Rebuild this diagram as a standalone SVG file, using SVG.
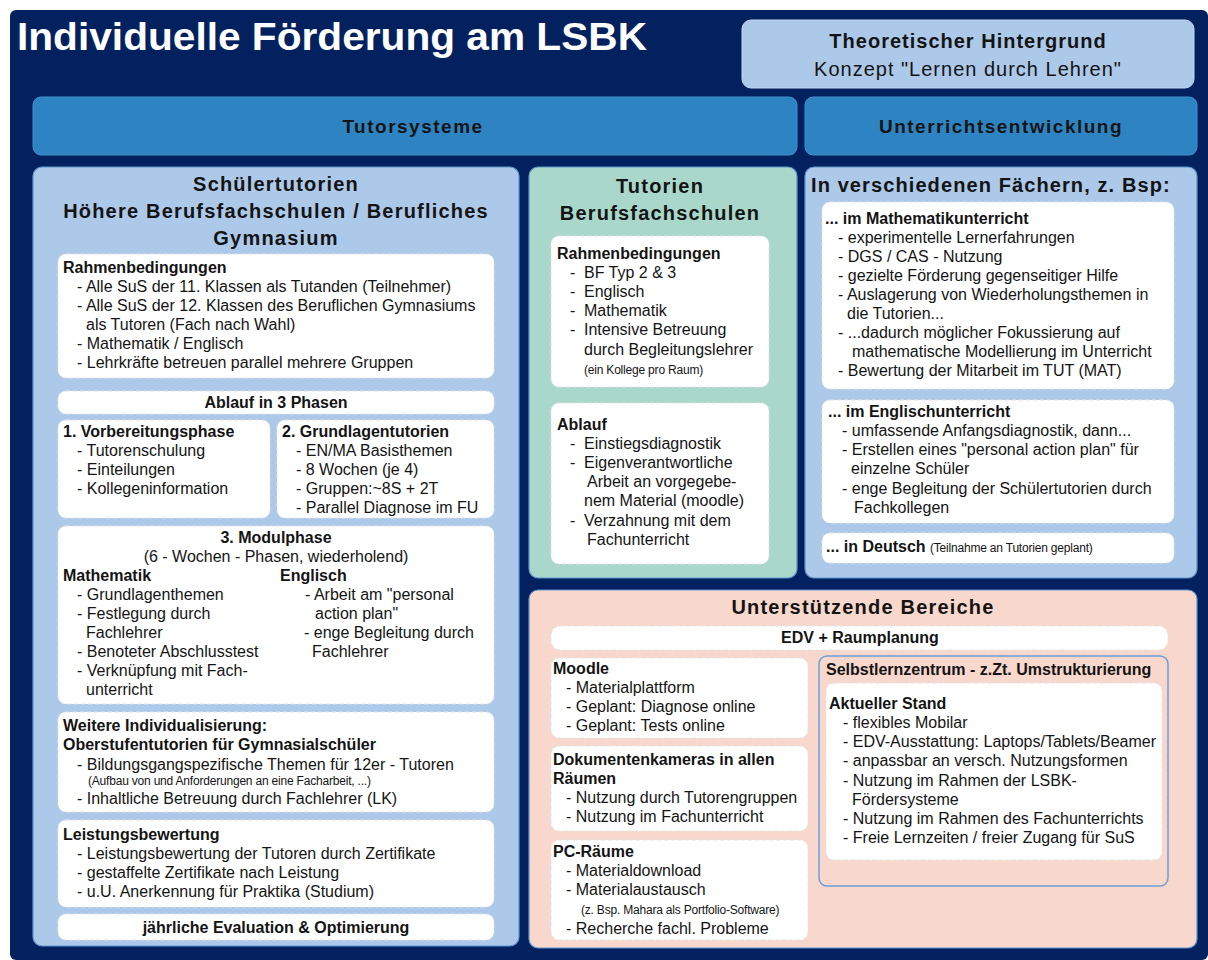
<svg xmlns="http://www.w3.org/2000/svg" width="1208" height="960" viewBox="0 0 1208 960">
  <style>
    text { font-family: "Liberation Sans", Arial, sans-serif; fill: #141414; }
    .t { font-size: 16px; }
    .b { font-size: 16px; font-weight: bold; }
    .s { font-size: 12px; letter-spacing: -0.2px; }
    .h { font-size: 20px; font-weight: bold; letter-spacing: 1.2px; }
    .bar { font-size: 19px; font-weight: bold; letter-spacing: 1.5px; }
    .c { text-anchor: middle; }
    .panel { stroke: #5e93cf; stroke-width: 1.2; }
    .bluebar { fill: #2e84c3; stroke: #3f8fcc; stroke-width: 1; }
    .lb { fill: #adc9e9; }
    .gr { fill: #a9d8cb; }
    .sa { fill: #f8d7cd; }
    .wb { fill: #ffffff; stroke: #e4e4e4; stroke-width: 1; stroke-dasharray: 4 3; }
  </style>

  <!-- background frame -->
  <rect x="0" y="0" width="1208" height="960" fill="#ffffff"/>
  <rect x="10" y="10" width="1198" height="950" rx="6" fill="#03215e"/>

  <!-- title -->
  <g id="title">
    <text x="17" y="50" font-size="39" font-weight="bold" style="fill:#ffffff" textLength="630" lengthAdjust="spacingAndGlyphs">Individuelle Förderung am LSBK</text>
  </g>

  <g id="theorie">
    <rect x="742" y="20" width="452" height="68" rx="9" class="lb" stroke="#c4d8ef" stroke-width="1"/>
    <text x="968" y="48" class="c" font-size="20" font-weight="bold" letter-spacing="1">Theoretischer Hintergrund</text>
    <text x="968" y="76" class="c" font-size="20" letter-spacing="1">Konzept "Lernen durch Lehren"</text>
  </g>

  <g id="tutorsysteme">
    <rect x="33" y="97" width="764" height="58" rx="8" class="bluebar"/>
    <text x="413" y="133" class="bar c">Tutorsysteme</text>
  </g>

  <g id="unterrichtsentwicklung">
    <rect x="805" y="97" width="392" height="58" rx="8" class="bluebar"/>
    <text x="1001" y="133" class="bar c">Unterrichtsentwicklung</text>
  </g>

  <!-- left column: Schülertutorien -->
  <g id="schuelertutorien">
    <rect x="33" y="167" width="486" height="779" rx="9" class="lb panel"/>
    <text x="276" y="191" class="h c">Schülertutorien</text>
    <text x="276" y="218" class="h c">Höhere Berufsfachschulen / Berufliches</text>
    <text x="276" y="245" class="h c">Gymnasium</text>
  </g>

  <g id="rahmen-schueler">
    <rect x="58" y="254" width="436" height="124" rx="8" class="wb"/>
    <text x="63" y="273" class="b">Rahmenbedingungen</text>
    <text x="77" y="292" class="t">- Alle SuS der 11. Klassen als Tutanden (Teilnehmer)</text>
    <text x="77" y="311" class="t">- Alle SuS der 12. Klassen des Beruflichen Gymnasiums</text>
    <text x="86" y="330" class="t">als Tutoren (Fach nach Wahl)</text>
    <text x="77" y="349" class="t">- Mathematik / Englisch</text>
    <text x="77" y="368" class="t">- Lehrkräfte betreuen parallel mehrere Gruppen</text>
  </g>

  <g id="ablauf-phasen">
    <rect x="58" y="391" width="436" height="23" rx="8" class="wb"/>
    <text x="276" y="408" class="b c">Ablauf in 3 Phasen</text>
  </g>

  <g id="phase1">
    <rect x="58" y="420" width="212" height="98" rx="8" class="wb"/>
    <text x="63" y="437" class="b">1. Vorbereitungsphase</text>
    <text x="77" y="456" class="t">- Tutorenschulung</text>
    <text x="77" y="475" class="t">- Einteilungen</text>
    <text x="77" y="494" class="t">- Kollegeninformation</text>
  </g>

  <g id="phase2">
    <rect x="277" y="420" width="217" height="98" rx="8" class="wb"/>
    <text x="282" y="437" class="b">2. Grundlagentutorien</text>
    <text x="296" y="456" class="t">- EN/MA Basisthemen</text>
    <text x="296" y="475" class="t">- 8 Wochen (je 4)</text>
    <text x="296" y="494" class="t">- Gruppen:~8S + 2T</text>
    <text x="296" y="513" class="t">- Parallel Diagnose im FU</text>
  </g>

  <g id="phase3">
    <rect x="58" y="526" width="436" height="178" rx="8" class="wb"/>
    <text x="276" y="543" class="b c">3. Modulphase</text>
    <text x="276" y="562" class="t c">(6 - Wochen - Phasen, wiederholend)</text>
    <text x="63" y="581" class="b">Mathematik</text>
    <text x="77" y="600" class="t">- Grundlagenthemen</text>
    <text x="77" y="619" class="t">- Festlegung durch</text>
    <text x="86" y="638" class="t">Fachlehrer</text>
    <text x="77" y="657" class="t">- Benoteter Abschlusstest</text>
    <text x="77" y="676" class="t">- Verknüpfung mit Fach-</text>
    <text x="86" y="695" class="t">unterricht</text>
    <text x="280" y="581" class="b">Englisch</text>
    <text x="305" y="600" class="t">- Arbeit am "personal</text>
    <text x="315" y="619" class="t">action plan"</text>
    <text x="304" y="638" class="t">- enge Begleitung durch</text>
    <text x="312" y="657" class="t">Fachlehrer</text>
  </g>

  <g id="weitere">
    <rect x="58" y="712" width="436" height="100" rx="8" class="wb"/>
    <text x="63" y="731" class="b">Weitere Individualisierung:</text>
    <text x="63" y="750" class="b">Oberstufentutorien für Gymnasialschüler</text>
    <text x="77" y="770" class="t">- Bildungsgangspezifische Themen für 12er - Tutoren</text>
    <text x="88" y="785" class="s">(Aufbau von und Anforderungen an eine Facharbeit, ...)</text>
    <text x="77" y="804" class="t">- Inhaltliche Betreuung durch Fachlehrer (LK)</text>
  </g>

  <g id="leistung">
    <rect x="58" y="820" width="436" height="87" rx="8" class="wb"/>
    <text x="63" y="840" class="b">Leistungsbewertung</text>
    <text x="77" y="859" class="t">- Leistungsbewertung der Tutoren durch Zertifikate</text>
    <text x="77" y="878" class="t">- gestaffelte Zertifikate nach Leistung</text>
    <text x="77" y="897" class="t">- u.U. Anerkennung für Praktika (Studium)</text>
  </g>

  <g id="evaluation">
    <rect x="58" y="914" width="436" height="26" rx="8" class="wb"/>
    <text x="276" y="933" class="b c">jährliche Evaluation &amp; Optimierung</text>
  </g>

  <!-- middle column: Tutorien Berufsfachschulen -->
  <g id="tutorien-bf">
    <rect x="529" y="167" width="268" height="411" rx="9" class="gr panel"/>
    <text x="660" y="193" class="h c">Tutorien</text>
    <text x="660" y="220" class="h c">Berufsfachschulen</text>
  </g>

  <g id="rahmen-bf">
    <rect x="551" y="236" width="218" height="151" rx="8" class="wb"/>
    <text x="557" y="259" class="b">Rahmenbedingungen</text>
    <text x="570" y="278" class="t">-</text><text x="584" y="278" class="t">BF Typ 2 &amp; 3</text>
    <text x="570" y="297" class="t">-</text><text x="584" y="297" class="t">Englisch</text>
    <text x="570" y="316" class="t">-</text><text x="584" y="316" class="t">Mathematik</text>
    <text x="570" y="335" class="t">-</text><text x="584" y="335" class="t">Intensive Betreuung</text>
    <text x="584" y="355" class="t">durch Begleitungslehrer</text>
    <text x="584" y="374" class="s">(ein Kollege pro Raum)</text>
  </g>

  <g id="ablauf-bf">
    <rect x="551" y="403" width="218" height="161" rx="8" class="wb"/>
    <text x="557" y="430" class="b">Ablauf</text>
    <text x="570" y="449" class="t">-</text><text x="584" y="449" class="t">Einstiegsdiagnostik</text>
    <text x="570" y="468" class="t">-</text><text x="584" y="468" class="t">Eigenverantwortliche</text>
    <text x="587" y="487" class="t">Arbeit an vorgegebe-</text>
    <text x="584" y="506" class="t">nem Material (moodle)</text>
    <text x="570" y="526" class="t">-</text><text x="584" y="526" class="t">Verzahnung mit dem</text>
    <text x="587" y="545" class="t">Fachunterricht</text>
  </g>

  <!-- right column: Unterrichtsentwicklung -->
  <g id="faecher">
    <rect x="805" y="167" width="392" height="411" rx="9" class="lb panel"/>
    <text x="811" y="192" font-size="20" font-weight="bold" letter-spacing="1.1">In verschiedenen Fächern, z. Bsp:</text>
  </g>

  <g id="mathematik">
    <rect x="822" y="202" width="352" height="187" rx="8" class="wb"/>
    <text x="825" y="224" class="b">... im Mathematikunterricht</text>
    <text x="838" y="243" class="t">- experimentelle Lernerfahrungen</text>
    <text x="838" y="262" class="t">- DGS / CAS - Nutzung</text>
    <text x="838" y="281" class="t">- gezielte Förderung gegenseitiger Hilfe</text>
    <text x="838" y="300" class="t">- Auslagerung von Wiederholungsthemen in</text>
    <text x="847" y="319" class="t">die Tutorien...</text>
    <text x="838" y="338" class="t">- ...dadurch möglicher Fokussierung auf</text>
    <text x="852" y="357" class="t">mathematische Modellierung im Unterricht</text>
    <text x="838" y="376" class="t">- Bewertung der Mitarbeit im TUT (MAT)</text>
  </g>

  <g id="englisch">
    <rect x="822" y="400" width="352" height="123" rx="8" class="wb"/>
    <text x="828" y="417" class="b">... im Englischunterricht</text>
    <text x="842" y="436" class="t">- umfassende Anfangsdiagnostik, dann...</text>
    <text x="842" y="455" class="t">- Erstellen eines "personal action plan" für</text>
    <text x="851" y="474" class="t">einzelne Schüler</text>
    <text x="842" y="494" class="t">- enge Begleitung der Schülertutorien durch</text>
    <text x="854" y="513" class="t">Fachkollegen</text>
  </g>

  <g id="deutsch">
    <rect x="822" y="533" width="352" height="30" rx="8" class="wb"/>
    <text x="826" y="552" class="b">... in Deutsch <tspan class="s" font-weight="normal">(Teilnahme an Tutorien geplant)</tspan></text>
  </g>

  <!-- bottom right: Unterstützende Bereiche -->
  <g id="unterstuetzend">
    <rect x="529" y="590" width="668" height="358" rx="9" class="sa panel"/>
    <text x="863" y="614" class="h c">Unterstützende Bereiche</text>
  </g>

  <g id="edv">
    <rect x="551" y="626" width="617" height="24" rx="9" class="wb"/>
    <text x="860" y="643" class="b c">EDV + Raumplanung</text>
  </g>

  <g id="moodle">
    <rect x="551" y="658" width="257" height="80" rx="8" class="wb"/>
    <text x="553" y="674" class="b">Moodle</text>
    <text x="566" y="693" class="t">- Materialplattform</text>
    <text x="566" y="712" class="t">- Geplant: Diagnose online</text>
    <text x="566" y="731" class="t">- Geplant: Tests online</text>
  </g>

  <g id="kameras">
    <rect x="551" y="746" width="257" height="85" rx="8" class="wb"/>
    <text x="553" y="765" class="b">Dokumentenkameras in allen</text>
    <text x="553" y="784" class="b">Räumen</text>
    <text x="566" y="803" class="t">- Nutzung durch Tutorengruppen</text>
    <text x="566" y="822" class="t">- Nutzung im Fachunterricht</text>
  </g>

  <g id="pc-raeume">
    <rect x="551" y="840" width="257" height="100" rx="8" class="wb"/>
    <text x="553" y="857" class="b">PC-Räume</text>
    <text x="566" y="876" class="t">- Materialdownload</text>
    <text x="566" y="895" class="t">- Materialaustausch</text>
    <text x="581" y="914" class="s">(z. Bsp. Mahara als Portfolio-Software)</text>
    <text x="566" y="934" class="t">- Recherche fachl. Probleme</text>
  </g>

  <g id="selbstlernzentrum">
    <rect x="819" y="656" width="349" height="230" rx="8" class="sa" stroke="#6b9fd6" stroke-width="1.5"/>
    <text x="826" y="675" class="b">Selbstlernzentrum - z.Zt. Umstrukturierung</text>
  </g>

  <g id="aktueller-stand">
    <rect x="826" y="683" width="336" height="177" rx="8" class="wb"/>
    <text x="829" y="709" class="b">Aktueller Stand</text>
    <text x="843" y="728" class="t">- flexibles Mobilar</text>
    <text x="843" y="747" class="t">- EDV-Ausstattung: Laptops/Tablets/Beamer</text>
    <text x="843" y="766" class="t">- anpassbar an versch. Nutzungsformen</text>
    <text x="843" y="786" class="t">- Nutzung im Rahmen der LSBK-</text>
    <text x="852" y="805" class="t">Fördersysteme</text>
    <text x="843" y="824" class="t">- Nutzung im Rahmen des Fachunterrichts</text>
    <text x="843" y="843" class="t">- Freie Lernzeiten / freier Zugang für SuS</text>
  </g>

  <!-- no connectors in this diagram -->
  <g id="connectors"/>
</svg>
